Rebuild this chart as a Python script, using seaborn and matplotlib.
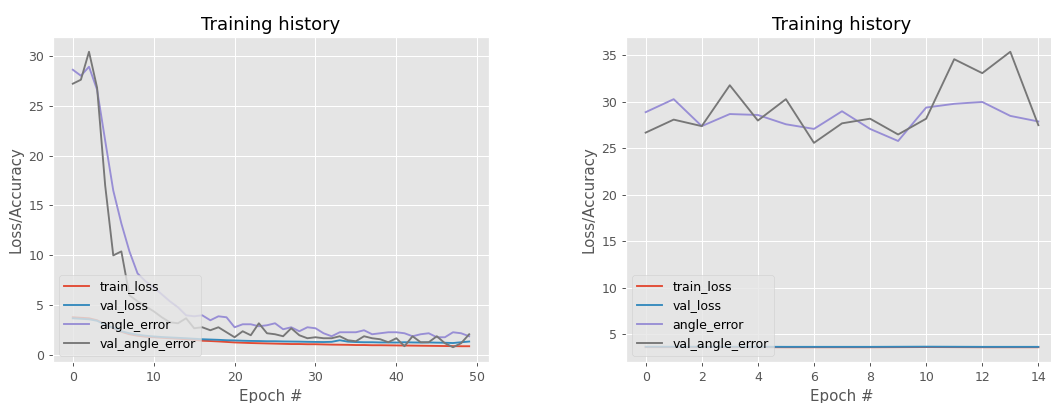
"""Training history: two runs side by side (50 epochs and 15 epochs)."""
import matplotlib
matplotlib.use("Agg")

import numpy as np
import pandas as pd
import matplotlib.pyplot as plt
import seaborn as sns

# run 1 (50 epochs)
train_loss_1 = [3.8, 3.75, 3.7, 3.5, 3.1, 2.7, 2.35, 2.1, 1.95, 1.85,
                1.8, 1.75, 1.7, 1.65, 1.6, 1.55, 1.45, 1.42, 1.38, 1.33,
                1.28, 1.25, 1.22, 1.2, 1.18, 1.16, 1.14, 1.12, 1.12, 1.1,
                1.1, 1.08, 1.06, 1.05, 1.04, 1.02, 1.02, 1.0, 1.0, 0.99,
                0.98, 0.97, 0.96, 0.95, 0.94, 0.93, 0.92, 0.91, 0.9, 0.9]
val_loss_1 = [3.7, 3.65, 3.6, 3.45, 3.05, 2.75, 2.4, 2.2, 2.05, 1.95,
              1.88, 1.82, 1.78, 1.74, 1.7, 1.65, 1.6, 1.57, 1.54, 1.5,
              1.48, 1.45, 1.43, 1.42, 1.4, 1.4, 1.38, 1.37, 1.36, 1.34,
              1.33, 1.32, 1.34, 1.5, 1.36, 1.32, 1.3, 1.3, 1.28, 1.28,
              1.27, 1.3, 1.28, 1.27, 1.28, 1.26, 1.25, 1.22, 1.3, 1.37]
angle_error_1 = [28.6, 28.0, 28.9, 26.6, 21.5, 16.5, 13.2, 10.4, 8.2, 7.4,
                 6.8, 6.1, 5.4, 4.8, 4.0, 3.9, 4.0, 3.5, 3.9, 3.8,
                 2.8, 3.1, 3.1, 2.9, 3.0, 3.2, 2.6, 2.8, 2.4, 2.8,
                 2.7, 2.2, 1.9, 2.3, 2.3, 2.3, 2.5, 2.1, 2.2, 2.3,
                 2.3, 2.2, 1.9, 2.1, 2.2, 1.8, 1.8, 2.3, 2.2, 1.9]
val_angle_error_1 = [27.2, 27.6, 30.4, 26.8, 17.0, 10.0, 10.4, 6.0, 5.4, 4.9,
                     4.4, 3.8, 3.3, 3.2, 3.7, 2.7, 2.8, 2.5, 2.8, 2.3,
                     1.8, 2.4, 2.0, 3.2, 2.2, 2.1, 1.9, 2.7, 2.0, 1.7,
                     1.8, 1.7, 1.7, 1.9, 1.5, 1.4, 1.9, 1.7, 1.6, 1.3,
                     1.7, 0.9, 1.9, 1.3, 1.3, 1.9, 1.2, 0.8, 1.2, 2.1]

# run 2 (15 epochs)
train_loss_2 = [3.62, 3.62, 3.62, 3.62, 3.62, 3.61, 3.61, 3.61, 3.61, 3.62,
                3.63, 3.62, 3.61, 3.61, 3.61]
val_loss_2 = [3.66, 3.66, 3.66, 3.66, 3.66, 3.65, 3.65, 3.65, 3.65, 3.66,
              3.67, 3.66, 3.65, 3.65, 3.65]
angle_error_2 = [28.9, 30.3, 27.4, 28.7, 28.6, 27.6, 27.1, 29.0, 27.1, 25.8,
                 29.4, 29.8, 30.0, 28.5, 27.9]
val_angle_error_2 = [26.7, 28.1, 27.4, 31.8, 28.0, 30.3, 25.6, 27.7, 28.2, 26.5,
                     28.2, 34.6, 33.1, 35.4, 27.5]

metrics = ["train_loss", "val_loss", "angle_error", "val_angle_error"]
colors = ["#E24A33", "#348ABD", "#988ED5", "#777777"]


def to_long(series):
    rows = []
    for name, vals in zip(metrics, series):
        for ep, v in enumerate(vals):
            rows.append({"epoch": ep, "value": v, "metric": name})
    return pd.DataFrame(rows)


plt.style.use("ggplot")
DPI = 90
W, H = 1051, 403
fig = plt.figure(figsize=(W / DPI, H / DPI), dpi=DPI)
ax1 = fig.add_axes([53 / W, 41 / H, 436 / W, 325 / H])
ax2 = fig.add_axes([626 / W, 41 / H, 432 / W, 325 / H])

runs = [
    (ax1, [train_loss_1, val_loss_1, angle_error_1, val_angle_error_1]),
    (ax2, [train_loss_2, val_loss_2, angle_error_2, val_angle_error_2]),
]
for ax, series in runs:
    df = to_long(series)
    sns.lineplot(data=df, x="epoch", y="value", hue="metric",
                 hue_order=metrics, palette=colors, linewidth=1.5, ax=ax)
    ax.set_title("Training history")
    ax.set_xlabel("Epoch #")
    ax.set_ylabel("Loss/Accuracy")
    ax.legend(loc="lower left")

ax1.set_xticks([0, 10, 20, 30, 40, 50])
ax2.set_xticks(range(0, 15, 2))

fig.savefig("out.png", dpi=DPI)
